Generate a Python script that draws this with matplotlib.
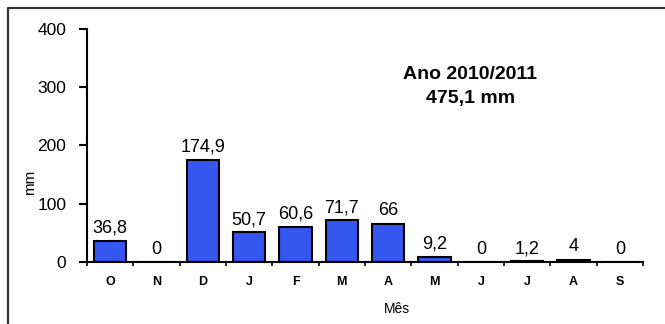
import matplotlib.pyplot as plt
from matplotlib.lines import Line2D

# Chuva mensal, ano hidrológico 2010/2011
meses = ["O", "N", "D", "J", "F", "M", "A", "M", "J", "J", "A", "S"]
chuva_mm = [36.8, 0, 174.9, 50.7, 60.6, 71.7, 66, 9.2, 0, 1.2, 4, 0]
rotulos = ["36,8", "0", "174,9", "50,7", "60,6", "71,7", "66", "9,2", "0", "1,2", "4", "0"]
y_ticks = [0, 100, 200, 300, 400]

plt.rcParams["font.family"] = ["Liberation Sans", "DejaVu Sans"]

fig = plt.figure(figsize=(6.65, 3.24), dpi=100)
ax = fig.add_axes([0.1308, 0.1914, 0.8362, 0.7191])

x = list(range(len(meses)))
ax.bar(x, chuva_mm, width=0.7, color="#3656F0", edgecolor="black", linewidth=1.5)

for xi, v, lab in zip(x, chuva_mm, rotulos):
    ax.annotate(lab, (xi, v), xytext=(0, 3), textcoords="offset points",
                ha="center", va="bottom", fontsize=13)

ax.set_xlim(-0.5, len(meses) - 0.5)
ax.set_ylim(0, 400)
ax.set_yticks(y_ticks)
ax.set_yticklabels([str(t) for t in y_ticks], fontsize=12.5)
ax.tick_params(axis="y", direction="out", length=6, width=1.5, pad=9)

ax.set_xticks(x)
ax.set_xticklabels(meses, fontsize=9, fontweight="bold")
ax.set_xticks([i - 0.5 for i in range(len(meses) + 1)], minor=True)
ax.tick_params(axis="x", which="major", length=0, pad=10)
ax.tick_params(axis="x", which="minor", direction="out", length=3, width=1.2)

for s in ["top", "right"]:
    ax.spines[s].set_visible(False)
ax.spines["left"].set_linewidth(1.5)
ax.spines["bottom"].set_linewidth(1.5)

ax.set_xlabel("Mês", fontsize=10)
ax.xaxis.set_label_coords(0.557, -0.17)
ax.set_ylabel("mm", fontsize=11)
ax.yaxis.set_label_coords(-0.09, 0.343)

ax.text(0.689, 0.803, "Ano 2010/2011", transform=ax.transAxes,
        ha="center", va="center", fontsize=14, fontweight="bold")
ax.text(0.689, 0.70, "475,1 mm", transform=ax.transAxes,
        ha="center", va="center", fontsize=14, fontweight="bold")

# moldura (só a borda esquerda e a superior aparecem)
fig.lines.append(Line2D([0.0113, 0.0113, 1.0], [0.0, 0.9753, 0.9753],
                        transform=fig.transFigure, color="#333333", linewidth=1.6))

fig.savefig("out.png", dpi=100)
